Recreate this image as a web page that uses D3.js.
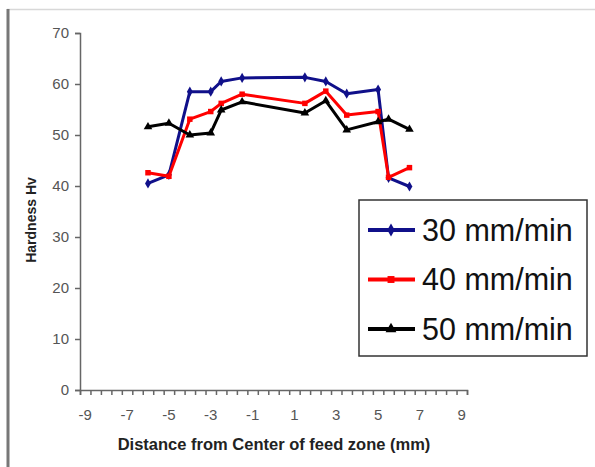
<!DOCTYPE html>
<html>
<title>Hardness</title>
<meta charset="UTF-8">
<script src="https://cdnjs.cloudflare.com/ajax/libs/d3/7.8.5/d3.min.js"></script>
<style>
	body { margin:0; background:white; }
	text { font-family: "Liberation Sans", Arial, sans-serif; }
	.tickLabel { font-size: 15px; fill: #555; }
	.title { font-weight: bold; fill: #222; }
</style>
<body>
<svg id="viz" width="595" height="467"></svg>
<script>
	// distance from centre of feed zone (mm)
	var positions = [-6, -5, -4, -3, -2.5, -1.5, 1.5, 2.5, 3.5, 5, 5.5, 6.5];
	// hardness Hv for each traverse speed
	var hv30 = [40.5, 42.2, 58.5, 58.5, 60.5, 61.2, 61.3, 60.5, 58.1, 58.9, 41.6, 39.9];
	var hv40 = [42.6, 41.9, 53.1, 54.6, 56.2, 58.0, 56.2, 58.6, 53.9, 54.6, 41.7, 43.6];
	var hv50 = [51.6, 52.3, 50.0, 50.4, 54.9, 56.5, 54.3, 56.7, 51.0, 52.6, 53.1, 51.1];
	var seriesNames = ["30 mm/min", "40 mm/min", "50 mm/min"];
	var yTicks = [0, 10, 20, 30, 40, 50, 60, 70];
	var xLabels = [-9, -7, -5, -3, -1, 1, 3, 5, 7, 9];

	var colors = ["#10108a", "#ff0000", "#000000"];
	var symbols = [d3.symbolDiamond, d3.symbolSquare, d3.symbolTriangle];
	var symSize = [30, 30, 32];

	var series = [hv30, hv40, hv50].map(function(vals, i){
		return {name: seriesNames[i], color: colors[i], symbol: symbols[i], size: symSize[i],
			points: positions.map(function(p, j){ return {x: p, y: vals[j]}; })};
	});

	var svg = d3.select("#viz");

	// picture frame
	svg.append("line").attr("x1", 7).attr("x2", 595).attr("y1", 9.5).attr("y2", 9.5)
		.attr("stroke", "#d8d8d8").attr("stroke-width", 1.5);
	svg.append("line").attr("x1", 8).attr("x2", 8).attr("y1", 9).attr("y2", 467)
		.attr("stroke", "#777").attr("stroke-width", 3);

	var xScale = d3.scaleLinear().domain([-9.25, 9.25]).range([80, 467]);
	var yScale = d3.scaleLinear().domain([0, 70]).range([390, 33]);

	// y axis
	var yAxis = d3.axisLeft(yScale).tickValues(yTicks).tickSize(5).tickPadding(6);
	var gy = svg.append("g").attr("transform", "translate(80,0)").call(yAxis);
	gy.select(".domain").attr("stroke", "#666").attr("stroke-width", 1.5);
	gy.selectAll(".tick line").attr("stroke", "#666").attr("stroke-width", 1.5);
	gy.selectAll(".tick text").attr("class", "tickLabel").attr("font-size", null).attr("font-family", null);

	// x axis: ticks on category boundaries, labels centred on categories
	var xTickVals = d3.range(0, 38).map(function(k){ return -9.25 + 0.5 * k; });
	var xAxis = d3.axisBottom(xScale).tickValues(xTickVals).tickSize(5).tickFormat("");
	var gx = svg.append("g").attr("transform", "translate(0,390)").call(xAxis);
	gx.select(".domain").attr("stroke", "#666").attr("stroke-width", 1.5);
	gx.selectAll(".tick line").attr("stroke", "#666").attr("stroke-width", 1.5);

	svg.append("g").selectAll("text").data(xLabels).enter().append("text")
		.attr("class", "tickLabel")
		.attr("x", function(d){ return xScale(d); })
		.attr("y", 420)
		.attr("text-anchor", "middle")
		.text(function(d){ return d; });

	// titles
	svg.append("text").attr("class", "title").attr("font-size", 16.5)
		.attr("x", 274).attr("y", 450).attr("text-anchor", "middle")
		.text("Distance from Center of feed zone (mm)");
	svg.append("text").attr("class", "title").attr("font-size", 14)
		.attr("transform", "translate(36,220) rotate(-90)").attr("text-anchor", "middle")
		.text("Hardness Hv");

	// lines and markers
	var line = d3.line().x(function(d){ return xScale(d.x); }).y(function(d){ return yScale(d.y); });

	var gs = svg.selectAll(".series").data(series).enter().append("g").attr("class", "series");
	gs.append("path")
		.attr("d", function(d){ return line(d.points); })
		.attr("fill", "none")
		.attr("stroke", function(d){ return d.color; })
		.attr("stroke-width", 3)
		.attr("stroke-linejoin", "round");
	gs.each(function(s){
		d3.select(this).selectAll("path.mk").data(s.points).enter().append("path")
			.attr("class", "mk")
			.attr("d", d3.symbol().type(s.symbol).size(s.size))
			.attr("transform", function(d){ return "translate(" + xScale(d.x) + "," + yScale(d.y) + ")"; })
			.attr("fill", s.color);
	});

	// legend
	var lg = svg.append("g");
	lg.append("rect").attr("x", 359).attr("y", 200).attr("width", 228).attr("height", 156)
		.attr("fill", "white").attr("stroke", "#333").attr("stroke-width", 1.5);
	var items = lg.selectAll(".item").data(series).enter().append("g")
		.attr("transform", function(d, i){ return "translate(0," + (230 + i * 49.5) + ")"; });
	items.append("line").attr("x1", 368).attr("x2", 415)
		.attr("stroke", function(d){ return d.color; }).attr("stroke-width", 4);
	items.append("path")
		.attr("d", function(d){ return d3.symbol().type(d.symbol).size(d.size * 1.6)(); })
		.attr("transform", "translate(391,0)")
		.attr("fill", function(d){ return d.color; });
	items.append("text").attr("x", 422).attr("y", 0).attr("dy", "0.36em")
		.attr("font-size", 30.5).attr("fill", "#111")
		.text(function(d){ return d.name; });
</script>
</body>
</html>
